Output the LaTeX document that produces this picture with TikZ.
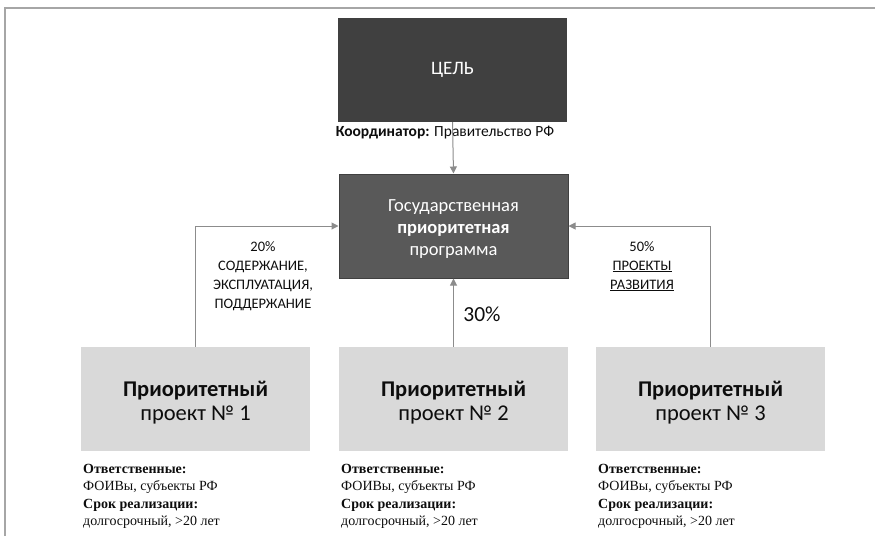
\documentclass[tikz,border=0pt]{standalone}
\usepackage{fontspec}
\setmainfont{Carlito}
\newfontfamily\notefont{Liberation Serif}
\usetikzlibrary{arrows.meta}
\definecolor{goalfill}{HTML}{404040}
\definecolor{progfill}{HTML}{595959}
\definecolor{projfill}{HTML}{D9D9D9}
\definecolor{linegray}{HTML}{8C8C8C}
\definecolor{framegray}{HTML}{A6A6A6}
\definecolor{txt}{HTML}{0D0D0D}
\tikzset{
  box/.style={minimum width=229pt, minimum height=104pt, inner sep=0pt, align=center},
  goalbox/.style={box, fill=goalfill, text=white, font=\fontsize{19}{22}\selectfont},
  progbox/.style={box, fill=progfill, draw=goalfill, line width=1pt, text=white, font=\fontsize{18.5}{22}\selectfont},
  projbox/.style={box, fill=projfill, text=txt, font=\fontsize{22.5}{24}\selectfont},
  conn/.style={draw=linegray, line width=1pt, -{Triangle[width=7pt,length=7pt]}},
  lbl/.style={align=center, inner sep=0pt, text=txt, font=\fontsize{14.5}{19}\selectfont},
  note/.style={align=left, inner sep=0pt, anchor=north west, text=txt, font=\notefont\fontsize{14}{17.3}\selectfont},
}
\begin{document}
\begin{tikzpicture}[x=1pt,y=-1pt]
\useasboundingbox (0,0) rectangle (875,536);
% frame
\draw[framegray, line width=1.5pt] (5,536) -- (5,8) -- (875,8);
% nodes
\node[goalbox] (goal) at (452.5,70) {ЦЕЛЬ};
\node[progbox] (prog) at (453.5,226) {\rule{0pt}{18pt}Государственная\\\textbf{приоритетная}\\программа};
\node[projbox] (p1) at (195.5,399) {\rule{0pt}{22.5pt}\textbf{Приоритетный}\\проект № 1};
\node[projbox] (p2) at (453.5,399) {\rule{0pt}{22.5pt}\textbf{Приоритетный}\\проект № 2};
\node[projbox] (p3) at (710.5,399) {\rule{0pt}{22.5pt}\textbf{Приоритетный}\\проект № 3};
% coordinator
\node[inner sep=0pt, text=txt, font=\fontsize{15.5}{18}\selectfont] (coord) at (445,133) {\textbf{Координатор:} Правительство РФ};
% connectors
\draw[conn] (goal.south) -- (prog.north);
\draw[conn] (p1.north) |- (prog.west);
\draw[conn] (p2.north) -- (prog.south);
\draw[conn] (p3.north) |- (prog.east);
% labels
\node[lbl, anchor=north] (l20) at (263,241) {20\%\\СОДЕРЖАНИЕ,\\ЭКСПЛУАТАЦИЯ,\\ПОДДЕРЖАНИЕ};
\node[lbl, anchor=north] (l50) at (642,241) {50\%\\\underline{ПРОЕКТЫ}\\\underline{РАЗВИТИЯ}};
\node[inner sep=0pt, text=txt, font=\fontsize{21.5}{24}\selectfont] (l30) at (482,314) {30\%};
% notes
\node[note] (n1) at (83,464) {\textbf{Ответственные:}\\ФОИВы, субъекты РФ\\\textbf{Срок реализации:}\\долгосрочный, >20 лет};
\node[note] (n2) at (341,464) {\textbf{Ответственные:}\\ФОИВы, субъекты РФ\\\textbf{Срок реализации:}\\долгосрочный, >20 лет};
\node[note] (n3) at (598,464) {\textbf{Ответственные:}\\ФОИВы, субъекты РФ\\\textbf{Срок реализации:}\\долгосрочный, >20 лет};
\end{tikzpicture}
\end{document}
